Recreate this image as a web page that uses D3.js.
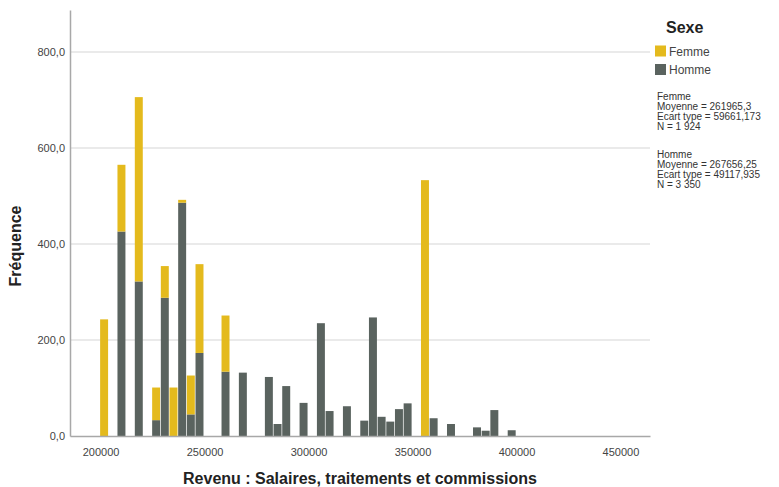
<!DOCTYPE html>
<html>
<head>
<meta charset="utf-8">
<script src="https://cdn.jsdelivr.net/npm/d3@7/dist/d3.min.js"></script>
<style>
  html, body { margin: 0; padding: 0; background: #fff; }
  svg { display: block; font-family: "Liberation Sans", Arial, sans-serif; }
</style>
</head>
<body>
<svg id="chart" width="779" height="487"></svg>
<script>
// ---- Data ----
const binCenters = [201700, 210040, 218380, 226720, 230890, 235060, 239230, 243400, 247570,
  260080, 268420, 280930, 285100, 289270, 297610, 305950, 310120, 318460, 326800, 330970,
  335140, 339310, 343480, 347650, 355990, 360160, 368500, 381010, 385180, 389350, 397690];
const homme = [0, 426, 322, 33, 288, 0, 486, 45, 173,
  134, 132, 123, 25, 104, 69, 235, 52, 62, 32, 247,
  40, 30, 56, 68, 0, 37, 25, 18, 11, 54, 12];
const femme = [243, 139, 384, 68, 66, 101, 6, 81, 185,
  117, 0, 0, 0, 0, 0, 0, 0, 0, 0, 0,
  0, 0, 0, 0, 533, 0, 0, 0, 0, 0, 0];
const binWidth = 4170;
const xTicks = [200000, 250000, 300000, 350000, 400000, 450000];
const yTicks = [0, 200, 400, 600, 800];
const seriesNames = ["Femme", "Homme"];
const statsFemme = ["Femme", "Moyenne = 261965,3", "Ecart type = 59661,173", "N = 1 924"];
const statsHomme = ["Homme", "Moyenne = 267656,25", "Ecart type = 49117,935", "N = 3 350"];

const colFemme = "#E4BA1D";
const colHomme = "#5A635F";

const svg = d3.select("#chart");
const x = d3.scaleLinear().domain([185300, 464200]).range([70, 650]);
const y = d3.scaleLinear().domain([0, 887.5]).range([436, 10]);

// gridlines
svg.append("g").selectAll("line").data(yTicks.filter(d => d > 0)).join("line")
  .attr("x1", 70).attr("x2", 650)
  .attr("y1", d => y(d)).attr("y2", d => y(d))
  .attr("stroke", "#d6d6d6").attr("stroke-width", 1.2);

// bars
const data = binCenters.map((c, i) => ({ c, h: homme[i], f: femme[i] }));
const gb = svg.append("g");
data.forEach(d => {
  const x0 = x(d.c - binWidth / 2) + 0.35;
  const w = x(d.c + binWidth / 2) - x(d.c - binWidth / 2) - 0.7;
  if (d.h > 0) {
    gb.append("rect").attr("x", x0).attr("width", w)
      .attr("y", y(d.h)).attr("height", y(0) - y(d.h)).attr("fill", colHomme);
  }
  if (d.f > 0) {
    gb.append("rect").attr("x", x0).attr("width", w)
      .attr("y", y(d.h + d.f)).attr("height", y(d.h) - y(d.h + d.f)).attr("fill", colFemme);
  }
});

// axes
const yAxis = d3.axisLeft(y).tickValues(yTicks).tickSize(0).tickPadding(5)
  .tickFormat(d => d3.format(".1f")(d).replace(".", ","));
const gy = svg.append("g").attr("transform", "translate(70,0)").call(yAxis);
gy.select(".domain").attr("stroke", "#a8a8a8").attr("stroke-width", 1.5);
gy.selectAll("text").attr("font-size", 11).attr("fill", "#444")
  .attr("font-family", "'Liberation Sans', Arial, sans-serif");

const xAxis = d3.axisBottom(x).tickValues(xTicks).tickSize(0).tickPadding(12)
  .tickFormat(d3.format("d"));
const gx = svg.append("g").attr("transform", "translate(0,436)").call(xAxis);
gx.select(".domain").attr("stroke", "#a8a8a8").attr("stroke-width", 1.5);
gx.selectAll("text").attr("font-size", 11).attr("fill", "#444")
  .attr("font-family", "'Liberation Sans', Arial, sans-serif");

// titles
svg.append("text").attr("x", 360).attr("y", 484).attr("text-anchor", "middle")
  .attr("font-size", 16).attr("font-weight", "bold").attr("fill", "#222")
  .text("Revenu : Salaires, traitements et commissions");
svg.append("text").attr("transform", "translate(21,246) rotate(-90)")
  .attr("text-anchor", "middle").attr("font-size", 16).attr("font-weight", "bold")
  .attr("fill", "#222").text("Fréquence");

// legend
const lg = svg.append("g");
lg.append("text").attr("x", 666).attr("y", 33).attr("font-size", 16)
  .attr("font-weight", "bold").attr("fill", "#222").text("Sexe");
const cols = [colFemme, colHomme];
seriesNames.forEach((n, i) => {
  lg.append("rect").attr("x", 655).attr("y", 45.5 + i * 18.5).attr("width", 11).attr("height", 11)
    .attr("fill", cols[i]);
  lg.append("text").attr("x", 669).attr("y", 55.5 + i * 18.5).attr("font-size", 12)
    .attr("fill", "#444").text(n);
});
[statsFemme, statsHomme].forEach((block, b) => {
  block.forEach((line, j) => {
    lg.append("text").attr("x", 657).attr("y", 100 + b * 58 + j * 10)
      .attr("font-size", 10).attr("fill", "#333").text(line);
  });
});
</script>
</body>
</html>
